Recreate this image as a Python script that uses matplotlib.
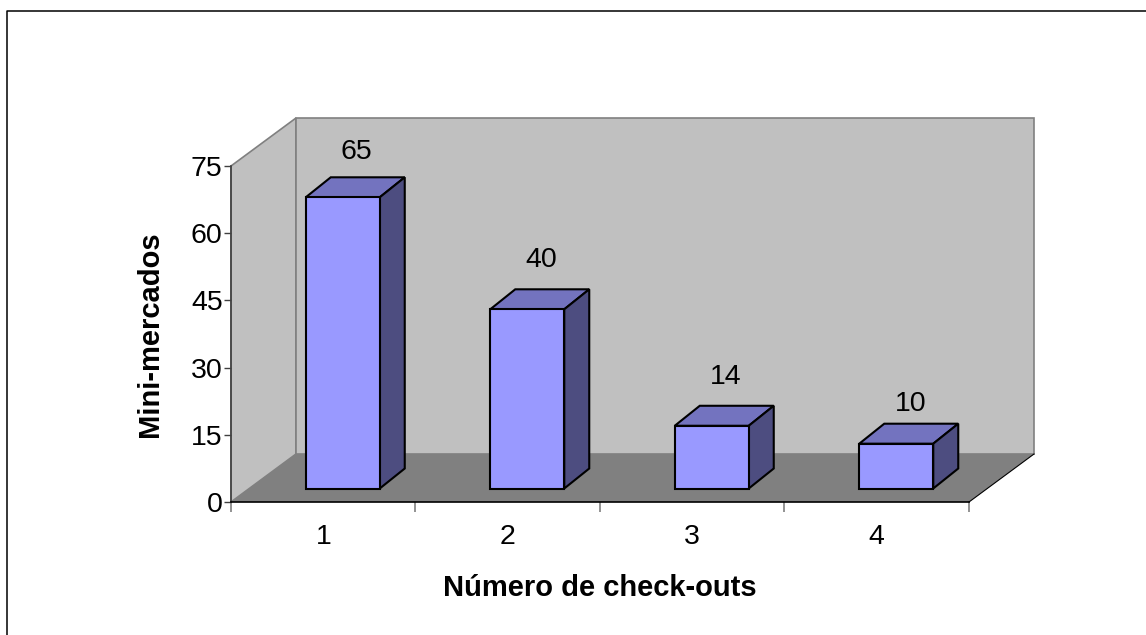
import matplotlib
matplotlib.use('Agg')
import matplotlib.pyplot as plt
from matplotlib.lines import Line2D

plt.rcParams['font.family'] = ['Liberation Sans', 'DejaVu Sans']

categories = ['1', '2', '3', '4']
values = [65, 40, 14, 10]
y_ticks = [0, 15, 30, 45, 60, 75]
x_label = 'Número de check-outs'
y_label = 'Mini-mercados'

W, H = 1146, 635
LEFT, RIGHT, BOTTOM, TOP = 231, 969, 502, 166  # front plane, pixels
FRONT = '#9999FF'
TOP_FACE = '#7373BF'
SIDE = '#4D4D80'
WALL = '#C0C0C0'
FLOOR = '#808080'

fig = plt.figure(figsize=(W / 100, H / 100), dpi=100)
ax = fig.add_axes([LEFT / W, 1 - BOTTOM / H, (RIGHT - LEFT) / W, (BOTTOM - TOP) / H])
ax.set_xlim(0.5, 4.5)
ax.set_ylim(0, 75)

# pixel sizes to data units
px_x = 4 / (RIGHT - LEFT)
px_y = 75 / (BOTTOM - TOP)
wall_dx, wall_dy = 65 * px_x, 48 * px_y
bar_dx, bar_dy = 25 * px_x, 20 * px_y
bar_shift = 19.5 * px_x
bar_base = 13.5 * px_y
bar_width = 74 * px_x

# walls and floor
x0, x1 = ax.get_xlim()
y0, y1 = ax.get_ylim()
ax.fill([x0, x0, x0 + wall_dx, x0 + wall_dx], [y0, y1, y1 + wall_dy, y0 + wall_dy],
        facecolor=WALL, edgecolor=FLOOR, lw=1.2, clip_on=False, zorder=1)
ax.fill([x0 + wall_dx, x0 + wall_dx, x1 + wall_dx, x1 + wall_dx],
        [y0 + wall_dy, y1 + wall_dy, y1 + wall_dy, y0 + wall_dy],
        facecolor=WALL, edgecolor=FLOOR, lw=1.2, clip_on=False, zorder=1)
ax.fill([x0, x1, x1 + wall_dx, x0 + wall_dx], [y0, y0, y0 + wall_dy, y0 + wall_dy],
        facecolor=FLOOR, edgecolor='none', clip_on=False, zorder=2)
ax.plot([x1, x1 + wall_dx], [y0, y0 + wall_dy], color='black', lw=0.8, clip_on=False, zorder=2)

# 3d bars
label_nudge = [-2.5, 1, 1, -8]
for i, value in enumerate(values):
    left = i + 1 + bar_shift - bar_width / 2
    right = left + bar_width
    top = bar_base + value
    ax.fill([left, right, right + bar_dx, left + bar_dx], [top, top, top + bar_dy, top + bar_dy],
            facecolor=TOP_FACE, edgecolor='black', lw=1.5, joinstyle='miter', zorder=3)
    ax.fill([right, right + bar_dx, right + bar_dx, right],
            [bar_base, bar_base + bar_dy, top + bar_dy, top],
            facecolor=SIDE, edgecolor='black', lw=1.5, joinstyle='miter', zorder=3)
    ax.bar(i + 1 + bar_shift, value, width=bar_width, bottom=bar_base, color=FRONT,
           edgecolor='black', linewidth=1.5, zorder=4)
    ax.text(i + 1 + bar_shift + 14 * px_x, top + (48 + label_nudge[i]) * px_y, str(value),
            ha='center', va='center', fontsize=20.5, color='black', zorder=5)

ax.patch.set_visible(False)
for name in ['top', 'right']:
    ax.spines[name].set_visible(False)
for name in ['left', 'bottom']:
    ax.spines[name].set_linewidth(1.2)
    ax.spines[name].set_zorder(6)
ax.spines['left'].set_color('#404040')
ax.spines['bottom'].set_color('black')

ax.set_yticks(y_ticks)
ax.tick_params(axis='y', length=5, width=1, color='#404040', labelsize=20.5, pad=1)
ax.set_xticks([1, 2, 3, 4], categories)
ax.tick_params(axis='x', which='major', length=0, labelsize=20.5, pad=16)
ax.set_xticks([0.5, 1.5, 2.5, 3.5, 4.5], minor=True)
ax.tick_params(axis='x', which='minor', length=7, width=1.2, color=FLOOR)

fig.text(600 / W, 1 - 588 / H, x_label, ha='center', va='center', fontsize=21, fontweight='bold')
fig.text(150 / W, 1 - 334 / H, y_label, ha='center', va='center', rotation=90, fontsize=21, fontweight='bold')

# only the top and left edges of the frame show, the rest is cropped away
fig.add_artist(Line2D([6.5 / W, 6.5 / W, 1], [0, 1 - 10.5 / H, 1 - 10.5 / H],
                      transform=fig.transFigure, color='black', lw=1.1))

fig.savefig('out.png', dpi=100)
